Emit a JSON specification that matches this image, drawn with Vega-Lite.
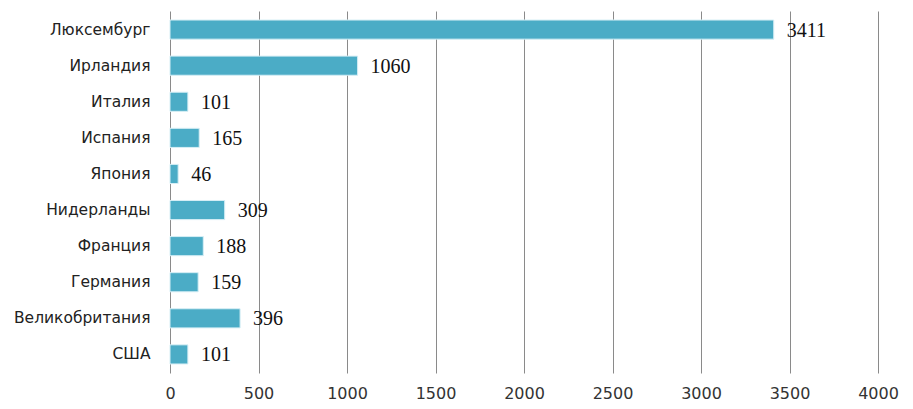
{
  "$schema": "https://vega.github.io/schema/vega-lite/v6.json",
  "width": 708,
  "height": 362,
  "autosize": {"type": "none"},
  "padding": {"left": 170, "top": 11, "right": 35, "bottom": 36},
  "background": "white",
  "config": {"view": {"stroke": null}},
  "data": {"values": [
    {"country": "Люксембург", "value": 3411},
    {"country": "Ирландия", "value": 1060},
    {"country": "Италия", "value": 101},
    {"country": "Испания", "value": 165},
    {"country": "Япония", "value": 46},
    {"country": "Нидерланды", "value": 309},
    {"country": "Франция", "value": 188},
    {"country": "Германия", "value": 159},
    {"country": "Великобритания", "value": 396},
    {"country": "США", "value": 101}
  ]},
  "encoding": {
    "y": {"field": "country", "type": "nominal", "sort": null, "title": null,
      "scale": {"paddingInner": 0.47, "paddingOuter": 0.25},
      "axis": {"domain": false, "ticks": false, "grid": false, "labelPadding": 20, "labelFont": "DejaVu Sans", "labelFontSize": 15.5, "labelColor": "#222", "labelLimit": 220}},
    "x": {"field": "value", "type": "quantitative", "title": null,
      "scale": {"domain": [0, 4000], "nice": false},
      "axis": {"values": [0, 500, 1000, 1500, 2000, 2500, 3000, 3500, 4000], "format": "d", "domain": false, "ticks": false, "grid": true, "gridColor": "#8a8a8a", "gridOpacity": 1, "gridWidth": 1, "labelPadding": 12, "labelFont": "DejaVu Sans", "labelFontSize": 16, "labelColor": "#333", "labelFlush": false}}
  },
  "layer": [
    {"mark": {"type": "bar", "color": "#4bacc6", "stroke": "#d6eef5", "strokeWidth": 1}},
    {"mark": {"type": "text", "align": "left", "baseline": "middle", "dx": 13, "dy": 1, "font": "Liberation Serif", "fontSize": 20, "color": "#111"},
     "encoding": {"text": {"field": "value", "type": "quantitative", "format": "d"}}}
  ]
}
